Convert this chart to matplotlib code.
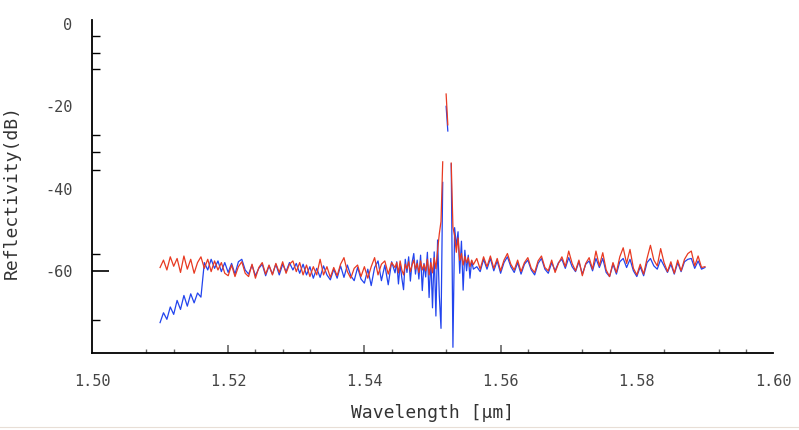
import numpy as np
import matplotlib.pyplot as plt
from matplotlib.lines import Line2D

plt.rcParams['font.family'] = ['DejaVu Sans Mono', 'DejaVu Sans']

# Rejilla de longitudes de onda (um): tramo izquierdo, central (más fino) y derecho
wl_left   = np.round(np.arange(1.5100, 1.54401, 0.0005), 5)
wl_center = np.round(np.arange(1.5445, 1.55601, 0.00025), 5)
wl_right  = np.round(np.arange(1.5565, 1.59001, 0.0005), 5)

# Reflectividad (dB), serie roja
red_left = [-59.2, -57.4, -59.8, -56.6, -58.9, -57.0, -60.4, -56.4, -59.6, -57.2,
            -60.6, -58.0, -56.6, -59.4, -57.2, -60.2, -57.6, -59.8, -58.0, -60.6,
            -61.2, -58.6, -61.4, -59.0, -57.8, -60.6, -61.4, -58.4, -61.8, -59.2,
            -58.0, -60.8, -58.6, -61.0, -58.2, -60.4, -57.8, -60.6, -58.4, -57.6,
            -60.2, -58.0, -61.0, -58.6, -61.4, -59.0, -61.0, -57.2, -61.0, -59.0,
            -61.6, -59.2, -61.2, -58.4, -56.8, -60.2, -61.8, -59.4, -58.6, -61.4,
            -59.0, -61.8, -59.0, -56.8, -61.0, -58.4, -57.6, -60.8, -58.0]
red_center = [-59.2, -58.0, -60.5, -57.6, -59.8, -61.0, -58.4, -59.5, -57.8, -60.2,
              -58.6, -57.4, -59.6, -58.2, -60.4, -57.6, -59.8, -58.5, -60.0, -57.2,
              -61.0, -58.0, -60.5, -56.8, -59.5, -55.0, -51.0, -48.0, -33.5, np.nan,
              -17.0, -24.5, np.nan, -33.8, -49.4, -51.5, -55.5, -52.0, -57.5, -55.8,
              -58.6, -56.5, -58.0, -56.8, -59.0, -57.4, -58.5]
red_right = [-57.0, -59.6, -56.6, -59.0, -56.4, -59.4, -57.0, -60.0, -57.4, -55.8,
             -58.4, -59.8, -57.4, -60.2, -58.0, -56.8, -59.4, -60.4, -57.6, -56.4,
             -59.2, -60.0, -57.4, -60.4, -58.2, -56.6, -59.0, -55.2, -58.2, -60.0,
             -57.4, -61.2, -58.2, -56.8, -59.6, -55.2, -58.8, -55.6, -59.8, -61.4,
             -58.0, -60.4, -56.6, -54.4, -58.2, -54.8, -59.4, -61.0, -58.4, -60.8,
             -57.0, -53.8, -57.4, -58.8, -54.6, -58.0, -60.2, -57.8, -60.6, -57.4,
             -60.0, -57.2, -55.8, -55.2, -58.8, -56.4, -59.2, -59.0]

# Reflectividad (dB), serie azul
blue_left = [-72.6, -70.2, -71.8, -68.8, -70.6, -67.2, -69.4, -66.0, -68.6, -65.6,
             -67.8, -65.4, -66.4, -58.0, -59.8, -57.2, -59.4, -57.6, -60.2, -58.0,
             -60.4, -58.2, -60.8, -57.8, -57.2, -59.8, -60.8, -58.6, -61.2, -59.4,
             -58.4, -61.2, -58.8, -60.8, -58.4, -61.0, -58.4, -60.2, -58.0, -59.8,
             -58.2, -60.6, -58.4, -61.0, -59.0, -61.8, -59.4, -61.6, -58.8, -61.0,
             -62.2, -59.6, -61.8, -58.8, -61.6, -58.6, -61.2, -62.4, -59.2, -62.0,
             -63.0, -59.6, -63.6, -59.2, -57.6, -62.4, -58.6, -63.4, -57.8]
blue_center = [-60.5, -57.8, -63.2, -58.4, -61.8, -64.6, -57.2, -60.4, -56.6, -62.5,
               -58.0, -55.8, -60.8, -57.4, -62.0, -56.2, -64.8, -58.2, -61.5, -55.5,
               -66.5, -57.0, -69.0, -55.4, -71.0, -52.5, -66.0, -74.0, -38.5, np.nan,
               -20.0, -26.0, np.nan, -34.0, -78.6, -49.5, -54.0, -50.5, -60.6, -52.8,
               -64.7, -55.0, -60.0, -56.2, -61.8, -57.5, -59.6]
blue_right = [-59.0, -60.2, -57.2, -59.6, -57.0, -60.0, -57.6, -60.6, -58.0, -56.6,
              -59.0, -60.4, -58.0, -60.8, -58.4, -57.4, -59.8, -61.0, -58.2, -57.0,
              -59.6, -60.6, -58.0, -60.0, -58.0, -57.2, -59.4, -56.8, -59.0, -60.2,
              -57.8, -60.8, -58.4, -57.6, -60.0, -57.0, -59.2, -57.0, -60.4, -61.4,
              -58.4, -60.8, -57.8, -57.0, -59.2, -57.2, -60.0, -61.4, -59.0, -61.2,
              -58.0, -57.0, -58.8, -59.6, -57.2, -58.8, -60.4, -58.4, -60.8, -58.0,
              -60.2, -57.8, -57.2, -57.0, -59.4, -57.6, -59.6, -59.2]

wl   = np.concatenate([wl_left, wl_center, wl_right])
red  = np.concatenate([red_left, red_center, red_right])
blue = np.concatenate([blue_left, blue_center, blue_right])

# Marcas de los ejes
x_labels      = [1.50, 1.52, 1.54, 1.56, 1.58, 1.60]
x_long_ticks  = [1.52, 1.54, 1.56]
x_short_ticks = [1.508, 1.512, 1.524, 1.528, 1.532, 1.544, 1.552, 1.564,
                 1.572, 1.576, 1.584, 1.592, 1.596]
y_labels      = [0, -20, -40, -60]
y_long_ticks  = [-60]
y_short_ticks = [-3, -7, -11, -27, -31, -35.5, -56, -72]

fig = plt.figure(figsize=(7.99, 4.30), dpi=100)
ax  = fig.add_axes([0.1151, 0.179, 0.8524, 0.7745])

ax.plot(wl, blue, color='#2244ee', lw=0.9)
ax.plot(wl, red , color='#e83a22', lw=0.9)

ax.set_xlim(1.50, 1.60)
ax.set_ylim(-80, 1)

for s in ['top', 'right']:
    ax.spines[s].set_visible(False)
for s in ['left', 'bottom']:
    ax.spines[s].set_linewidth(1.3)

ax.set_xticks(x_long_ticks)
ax.set_xticks(x_short_ticks, minor=True)
ax.set_yticks(y_long_ticks)
ax.set_yticks(y_short_ticks, minor=True)
ax.tick_params(axis='x', which='major', direction='in', length=5.8, width=1.2,
               color='#666666', labelbottom=False)
ax.tick_params(axis='x', which='minor', direction='in', length=2.9, width=1.0,
               color='#666666')
ax.tick_params(axis='y', which='major', direction='in', length=12, width=1.2,
               labelleft=False)
ax.tick_params(axis='y', which='minor', direction='in', length=6, width=1.0)

secx = ax.secondary_xaxis('bottom')
secx.set_xticks(x_labels, [f'{v:.2f}' for v in x_labels])
secx.tick_params(length=0, pad=15, labelsize=11, labelcolor='#444444')
secx.spines['bottom'].set_visible(False)

secy = ax.secondary_yaxis('left')
secy.set_yticks(y_labels, [f'{v:d}' for v in y_labels])
secy.tick_params(length=0, pad=14, labelsize=11, labelcolor='#444444')
secy.spines['left'].set_visible(False)

ax.set_xlabel('Wavelength [μm]', fontsize=13, color='#333333')
ax.xaxis.set_label_coords(0.5, -0.18)
ax.xaxis.label.set_va('center')
ax.set_ylabel('Reflectivity(dB)', fontsize=13, color='#333333')
ax.yaxis.set_label_coords(-0.1175, 0.483)
ax.yaxis.label.set_va('center')

# linea tenue del borde inferior de la captura
fig.add_artist(Line2D([0, 1], [1 - 427/430, 1 - 427/430], transform=fig.transFigure,
                      color='#e8ded6', lw=0.8))

fig.savefig('out.png', dpi=100)
